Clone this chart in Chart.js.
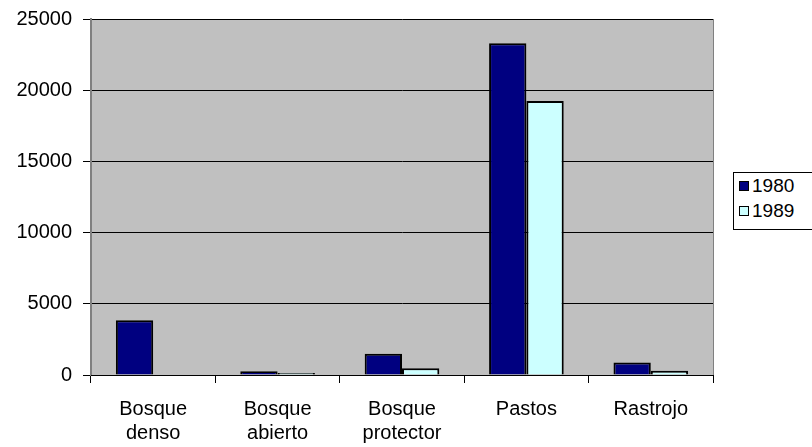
<!DOCTYPE html>
<html>
<head>
<meta charset="utf-8">
<script src="https://cdn.jsdelivr.net/npm/chart.js@4/dist/chart.umd.min.js"></script>
<style>
  body { margin: 0; background: #fff; }
  #wrap { position: relative; width: 812px; height: 447px; }
  #leyenda {
    position: absolute; left: 733px; top: 172px; width: 79px; height: 58px;
    border: 1px solid #000; border-right: none; box-sizing: border-box; background: #fff;
    font-family: 'Liberation Sans', Arial, sans-serif; font-size: 19px; color: #000;
  }
  #leyenda div { position: absolute; left: 5px; height: 22px; line-height: 22px; white-space: nowrap; }
  #leyenda span.caja {
    display: inline-block; width: 8px; height: 8px; border: 1px solid #000;
    margin-right: 3px; vertical-align: 1px;
  }
</style>
</head>
<body>
<div id="wrap">
  <canvas id="grafico" width="812" height="447"></canvas>
  <div id="leyenda"></div>
</div>
<script>
// Datos del gráfico (hectáreas por cobertura)
const categorias = [['Bosque', 'denso'], ['Bosque', 'abierto'], ['Bosque', 'protector'], 'Pastos', 'Rastrojo'];
const anios = ['1980', '1989'];
const valores1980 = [3850, 260, 1500, 23300, 870];
const valores1989 = [0, 140, 480, 19250, 290];
const marcasY = [0, 5000, 10000, 15000, 20000, 25000];

const colores = ['#000080', '#CCFFFF'];

// fondo gris del área de trazado
const fondoGris = {
  id: 'fondoGris',
  beforeDraw(chart) {
    const a = chart.chartArea, c = chart.ctx;
    c.save();
    c.fillStyle = '#C0C0C0';
    c.fillRect(a.left, a.top, a.right - a.left, a.bottom - a.top);
    c.restore();
  },
  afterDatasetsDraw(chart) {
    const a = chart.chartArea, c = chart.ctx;
    c.save();
    c.strokeStyle = '#808080';
    c.lineWidth = 1;
    c.beginPath();
    c.moveTo(a.right + 0.5, a.top);
    c.lineTo(a.right + 0.5, a.bottom);
    c.stroke();
    c.strokeStyle = '#000';
    c.beginPath();
    c.moveTo(a.left, a.bottom + 0.5);
    c.lineTo(a.right, a.bottom + 0.5);
    c.stroke();
    c.restore();
  }
};

Chart.defaults.font.family = "'Liberation Sans', Arial, sans-serif";
Chart.defaults.font.size = 20;
Chart.defaults.color = '#000';

const ctx = document.getElementById('grafico').getContext('2d');
const grafico = new Chart(ctx, {
  type: 'bar',
  data: {
    labels: categorias,
    datasets: [
      { label: anios[0], data: valores1980, backgroundColor: colores[0], borderColor: '#000', borderWidth: 2 },
      { label: anios[1], data: valores1989, backgroundColor: colores[1], borderColor: '#000', borderWidth: 2 }
    ]
  },
  options: {
    responsive: false,
    animation: false,
    layout: { padding: { left: 0, right: 99, top: 19, bottom: 0 } },
    plugins: { legend: { display: false }, tooltip: { enabled: false } },
    datasets: { bar: { categoryPercentage: 0.6, barPercentage: 1 } },
    scales: {
      x: {
        offset: true,
        grid: { offset: true, drawOnChartArea: false, color: '#000', tickLength: 8 },
        border: { color: '#000' },
        ticks: { padding: 14, font: { size: 20, lineHeight: 1.2 } },
        afterFit(s) { s.height = 72; s.paddingLeft = 0; s.paddingRight = 0; }
      },
      y: {
        min: 0,
        max: 25000,
        afterBuildTicks(s) { s.ticks = marcasY.map(v => ({ value: v })); },
        grid: { color: '#000', tickLength: 8 },
        border: { color: '#808080', width: 2 },
        ticks: { padding: 11, font: { size: 20 }, callback: v => String(v) },
        afterFit(s) { s.width = 91; s.paddingTop = 0; s.paddingBottom = 0; }
      }
    }
  },
  plugins: [fondoGris]
});

// leyenda a la derecha
const leyenda = document.getElementById('leyenda');
anios.forEach((a, i) => {
  const d = document.createElement('div');
  d.style.top = (2 + i * 25) + 'px';
  d.innerHTML = '<span class="caja" style="background:' + colores[i] + '"></span>' + a;
  leyenda.appendChild(d);
});
</script>
</body>
</html>
